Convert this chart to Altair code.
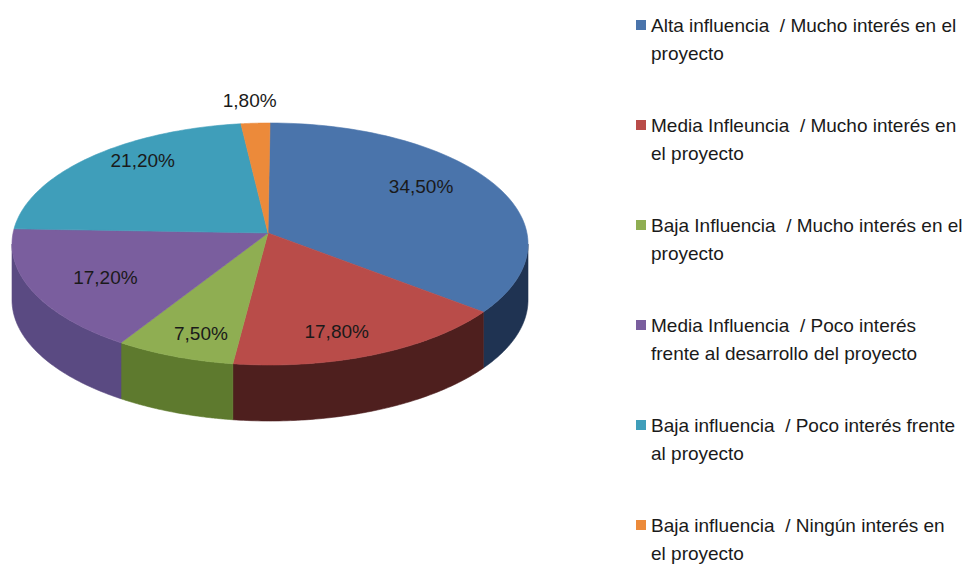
import altair as alt
import pandas as pd

# ---------------- data ----------------
categories = [
    "Alta influencia / Mucho interés en el proyecto",
    "Media Infleuncia / Mucho interés en el proyecto",
    "Baja Influencia / Mucho interés en el proyecto",
    "Media Influencia / Poco interés frente al desarrollo del proyecto",
    "Baja influencia / Poco interés frente al proyecto",
    "Baja influencia / Ningún interés en el proyecto",
]
values = [34.5, 17.8, 7.5, 17.2, 21.2, 1.8]
pct_labels = ["34,50%", "17,80%", "7,50%", "17,20%", "21,20%", "1,80%"]
legend_line1 = [
    "Alta influencia\u00a0 / Mucho interés en el",
    "Media Infleuncia\u00a0 / Mucho interés en",
    "Baja Influencia\u00a0 / Mucho interés en el",
    "Media Influencia\u00a0 / Poco interés",
    "Baja influencia\u00a0 / Poco interés frente",
    "Baja influencia\u00a0 / Ningún interés en",
]
legend_line2 = [
    "proyecto",
    "el proyecto",
    "proyecto",
    "frente al desarrollo del proyecto",
    "al proyecto",
    "el proyecto",
]
top_colors = ["#4a74ab", "#b94c49", "#8fae52", "#7a5e9e", "#3f9eba", "#ec8a3a"]
side_colors = ["#1f3352", "#4e1f1e", "#5e7a2e", "#5a4a82", "#2c6e80", "#a05a20"]

# ---------------- geometry (chart pixel units) ----------------
W, H = 955, 559
CX, CY = 262, 236      # ellipse centre
RX, RY = 258, 121      # ellipse radii
AX, AY = 260, 225      # apex of the slices
DEPTH = 56
LCX, LCY = 258, 228    # label centre
N = 80

side_keys = ["s" + c for c in categories]
fill_scale = alt.Scale(domain=categories + side_keys, range=top_colors + side_colors)
xs = alt.Scale(domain=[0, W], range=[0, W])
ys = alt.Scale(domain=[0, H], range=[0, H])

df = pd.DataFrame({
    "category": categories,
    "side_key": side_keys,
    "value": values,
    "order": list(range(len(values))),
    "label": pct_labels,
    "steps": [list(range(2 * N + 2)) for _ in values],
})

base = (
    alt.Chart(df)
    .transform_joinaggregate(total="sum(value)")
    .transform_window(cum="sum(value)", sort=[alt.SortField("order")], frame=[None, 0])
    .transform_calculate(
        a0="2*PI*(datum.cum-datum.value)/datum.total",
        a1="2*PI*datum.cum/datum.total",
    )
)

side = (
    base.transform_flatten(["steps"], as_=["k"])
    .transform_calculate(
        b0="clamp(datum.a0, PI/2, 3*PI/2)",
        b1="clamp(datum.a1, PI/2, 3*PI/2)",
    )
    .transform_filter("datum.b1 > datum.b0")
    .transform_calculate(
        ang=f"datum.k <= {N} ? datum.b0 + (datum.b1-datum.b0)*datum.k/{N} : datum.b1 - (datum.b1-datum.b0)*(datum.k-{N+1})/{N}",
    )
    .transform_calculate(
        px=f"{CX} + {RX}*sin(datum.ang)",
        py=f"{CY} - {RY}*cos(datum.ang) + (datum.k <= {N} ? 0 : {DEPTH})",
    )
    .mark_line(interpolate="linear-closed", strokeWidth=0.6)
    .encode(
        x=alt.X("px:Q", scale=xs, axis=None),
        y=alt.Y("py:Q", scale=ys, axis=None),
        order=alt.Order("k:Q"),
        detail="side_key:N",
        fill=alt.Fill("side_key:N", scale=fill_scale, legend=None),
        stroke=alt.Stroke("side_key:N", scale=fill_scale, legend=None),
    )
)

top = (
    base.transform_flatten(["steps"], as_=["k"])
    .transform_filter(f"datum.k <= {N+1}")
    .transform_calculate(ang=f"datum.a0 + (datum.a1-datum.a0)*(datum.k-1)/{N}")
    .transform_calculate(
        px=f"datum.k == 0 ? {AX} : {CX} + {RX}*sin(datum.ang)",
        py=f"datum.k == 0 ? {AY} : {CY} - {RY}*cos(datum.ang)",
    )
    .mark_line(interpolate="linear-closed", strokeWidth=0.6)
    .encode(
        x=alt.X("px:Q", scale=xs, axis=None),
        y=alt.Y("py:Q", scale=ys, axis=None),
        order=alt.Order("k:Q"),
        detail="category:N",
        fill=alt.Fill("category:N", scale=fill_scale, legend=None),
        stroke=alt.Stroke("category:N", scale=fill_scale, legend=None),
    )
)

labels = (
    base.transform_calculate(mid="(datum.a0+datum.a1)/2")
    .transform_calculate(
        lx=f"{LCX} + (datum.value < 5 ? 1.12 : 0.68)*{RX}*sin(datum.mid)",
        ly=f"{LCY} - (datum.value < 5 ? 1.12 : 0.87)*{RY}*cos(datum.mid)",
    )
    .mark_text(font="Liberation Sans", fontSize=19, color="#1a1a1a", baseline="middle", align="center")
    .encode(
        x=alt.X("lx:Q", scale=xs, axis=None),
        y=alt.Y("ly:Q", scale=ys, axis=None),
        text="label:N",
    )
)

# ---------------- legend ----------------
leg_rows = []
for i, (c, l1, l2) in enumerate(zip(categories, legend_line1, legend_line2)):
    leg_rows.append({"category": c, "idx": i, "line": 0, "text": l1})
    leg_rows.append({"category": c, "idx": i, "line": 1, "text": l2})
leg_df = pd.DataFrame(leg_rows)

leg_sq = (
    alt.Chart(leg_df)
    .transform_filter("datum.line == 0")
    .transform_calculate(sx="633", sy="17 + 100*datum.idx")
    .mark_square(size=100, opacity=1)
    .encode(
        x=alt.X("sx:Q", scale=xs, axis=None),
        y=alt.Y("sy:Q", scale=ys, axis=None),
        fill=alt.Fill("category:N", scale=fill_scale, legend=None),
    )
)

leg_text = (
    alt.Chart(leg_df)
    .transform_calculate(tx="643", ty="24 + 100*datum.idx + 28*datum.line")
    .mark_text(font="Liberation Sans", fontSize=19, color="#1a1a1a", align="left", baseline="alphabetic")
    .encode(
        x=alt.X("tx:Q", scale=xs, axis=None),
        y=alt.Y("ty:Q", scale=ys, axis=None),
        text="text:N",
    )
)

chart = (
    alt.layer(side, top, labels, leg_sq, leg_text)
    .properties(width=W, height=H, padding=0, autosize=alt.AutoSizeParams(type="none"), background="white")
    .configure_view(stroke=None)
)

chart.save("out.html", embed_options={"renderer": "svg", "actions": False})
